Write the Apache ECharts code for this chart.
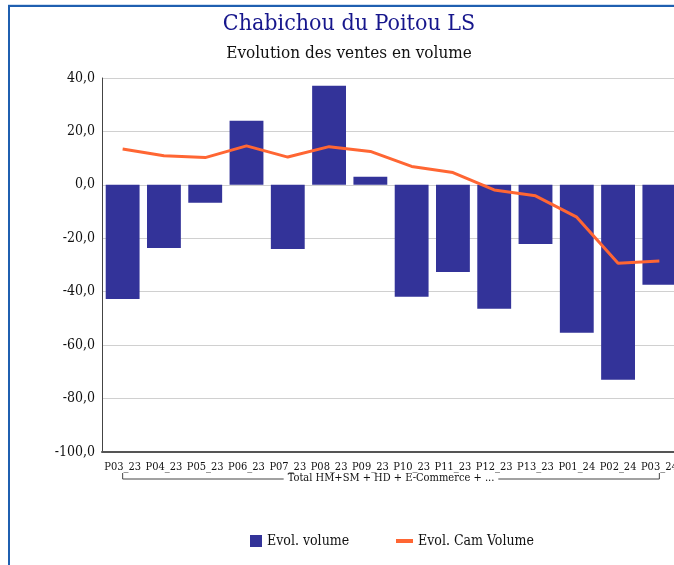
<!DOCTYPE html>
<html>
<head>
<meta charset="utf-8">
<script src="https://cdn.jsdelivr.net/npm/echarts@6/dist/echarts.min.js"></script>
<style>
  html, body { margin: 0; padding: 0; width: 674px; height: 565px; overflow: hidden; background: #fff; }
  #frame { position: absolute; left: 8px; top: 5px; width: 800px; height: 700px;
           border-top: 2px solid #1f5fb0; border-left: 2px solid #1f5fb0; box-shadow: 0 -1px 0 #cfdff2; }
  #chart { position: absolute; left: 0; top: 0; width: 698px; height: 565px; }
</style>
</head>
<body>
<div id="frame"></div>
<div id="chart"></div>
<script>
const categories = ['P03_23','P04_23','P05_23','P06_23','P07_23','P08_23','P09_23','P10_23','P11_23','P12_23','P13_23','P01_24','P02_24','P03_24'];
const evolVolume = [-42.7, -23.6, -6.7, 24.0, -24.0, 37.1, 3.0, -41.9, -32.6, -46.4, -22.1, -55.4, -73.0, -37.4];
const evolCamVolume = [13.4, 10.9, 10.2, 14.6, 10.4, 14.3, 12.5, 6.9, 4.6, -1.9, -4.1, -12.1, -29.3, -28.5];
const groupLabel = 'Total HM+SM + HD + E-Commerce + ...';

const FONT = '"DejaVu Serif Condensed", "DejaVu Serif", serif';
const chart = echarts.init(document.getElementById('chart'), null, { renderer: 'canvas' });

const option = {
  animation: false,
  title: [
    { text: 'Chabichou du Poitou LS', left: 'center', top: 8,
      textStyle: { fontFamily: FONT, fontSize: 23, fontWeight: 'normal', color: '#16168c' } },
    { text: 'Evolution des ventes en volume', left: 'center', top: 40,
      textStyle: { fontFamily: FONT, fontSize: 17, fontWeight: 'normal', color: '#111' } }
  ],
  legend: [
    { data: ['Evol. volume'], left: 245, top: 529, itemWidth: 12, itemHeight: 12, icon: 'rect',
      textStyle: { fontFamily: FONT, fontSize: 14, color: '#111' } },
    { data: ['Evol. Cam Volume'], left: 391, top: 529, itemWidth: 17, itemHeight: 4, icon: 'rect',
      textStyle: { fontFamily: FONT, fontSize: 14, color: '#111' } }
  ],
  grid: { left: 102, top: 78, width: 578, height: 374, containLabel: false },
  xAxis: {
    type: 'category',
    data: categories,
    position: 'bottom',
    name: groupLabel,
    nameLocation: 'middle',
    nameGap: 21,
    nameMoveOverlap: false,
    nameTextStyle: { fontFamily: FONT, fontSize: 11, color: '#111' },
    axisLine: { onZero: false, lineStyle: { color: '#555', width: 2 } },
    axisTick: { show: false },
    axisLabel: { interval: 0, margin: 10, fontFamily: FONT, fontSize: 11, color: '#111' }
  },
  yAxis: {
    type: 'value',
    min: -100, max: 40, interval: 20,
    axisLine: { show: true, lineStyle: { color: '#444', width: 1 } },
    axisTick: { show: false },
    splitLine: { lineStyle: { color: '#d0d0d0', width: 1 } },
    axisLabel: { margin: 7, fontFamily: FONT, fontSize: 14, color: '#111',
      formatter: v => v.toFixed(1).replace('.', ',') }
  },
  series: [
    { name: 'Evol. volume', type: 'bar', data: evolVolume, barCategoryGap: '18%',
      itemStyle: { color: '#333399' }, z: 2 },
    { name: 'Evol. Cam Volume', type: 'line', data: evolCamVolume, showSymbol: false, symbol: 'none',
      lineStyle: { color: '#ff6633', width: 3 }, itemStyle: { color: '#ff6633' }, z: 3 }
  ]
};
chart.setOption(option);

// group bracket under the category labels, positioned via the axis scale
function drawBracket() {
  const first = chart.convertToPixel({ xAxisIndex: 0 }, categories[0]);
  const last = chart.convertToPixel({ xAxisIndex: 0 }, categories[categories.length - 1]);
  const bottom = chart.convertToPixel({ yAxisIndex: 0 }, -100);
  const cv = document.createElement('canvas').getContext('2d');
  cv.font = '11px ' + FONT;
  const tw = cv.measureText(groupLabel).width;
  const mid = (first + last) / 2;
  const lineY = bottom + 27;
  const topY = bottom + 21;
  const gap = 4;
  const st = { stroke: '#444', lineWidth: 1 };
  chart.setOption({
    graphic: [
      { type: 'polyline', shape: { points: [[first, topY], [first, lineY], [mid - tw / 2 - gap, lineY]] }, style: st, silent: true },
      { type: 'polyline', shape: { points: [[mid + tw / 2 + gap, lineY], [last, lineY], [last, topY]] }, style: st, silent: true }
    ]
  });
}
drawBracket();
</script>
</body>
</html>
